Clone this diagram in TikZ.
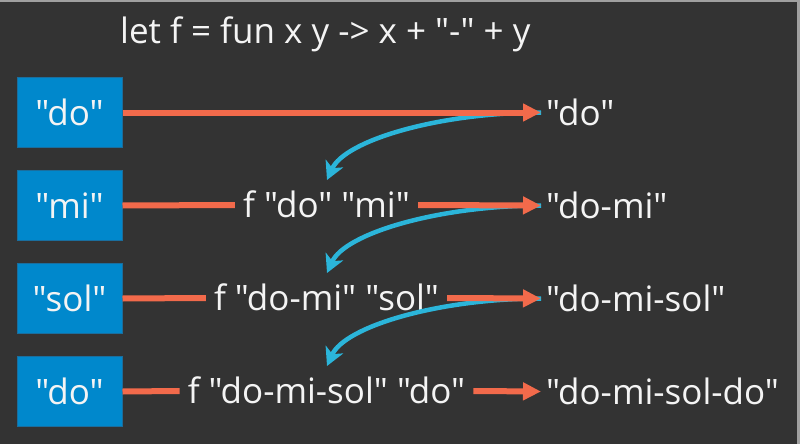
\documentclass[tikz,border=0pt]{standalone}
\usepackage{fontspec}
\setmainfont{Open Sans}[Ligatures=TeXOff]
\usetikzlibrary{arrows.meta}
\definecolor{bgdark}{HTML}{333333}
\definecolor{bgedge}{HTML}{A0A0A0}
\definecolor{boxblue}{HTML}{0088CC}
\definecolor{boxedge}{HTML}{1A6E9E}
\definecolor{redline}{HTML}{F26A4B}
\definecolor{curveblue}{HTML}{2BB5DA}
\definecolor{txt}{HTML}{F4F4F4}
\tikzset{
  bigtext/.style={font=\fontsize{35}{42}\selectfont, text=txt},
  valbox/.style={bigtext, draw=boxedge, line width=1pt, fill=boxblue,
    minimum width=105pt, minimum height=70pt, inner sep=0pt,
    text height=25pt, text depth=0pt},
  midtext/.style={bigtext, inner xsep=8pt, inner ysep=0pt,
    text height=25pt, text depth=0pt},
  restext/.style={bigtext, anchor=west, inner xsep=5pt, inner ysep=0pt,
    text height=25pt, text depth=0pt},
  redconn/.style={draw=redline, line width=6pt},
  redarrow/.style={redconn, -{Triangle[length=18pt,width=17pt]}},
  bluearrow/.style={draw=curveblue, line width=4.5pt,
    -{Stealth[length=18pt,width=19pt,inset=5pt]}},
}
\begin{document}
\begin{tikzpicture}[x=1pt,y=-1pt]
\useasboundingbox (0,0) rectangle (800,444);
\fill[bgedge] (0,0) rectangle (800,444);
\fill[bgdark] (0,2.5) rectangle (796.5,444);

\node[bigtext, anchor=base west, inner sep=0pt] (title) at (120,43.5)
  {let f = fun x y -> x + "-" + y};

% boxes
\node[valbox] (b1) at (69.5,112.5) {"do"};
\node[valbox] (b2) at (69.5,205.5) {"mi"};
\node[valbox] (b3) at (69.5,298.5) {"sol"};
\node[valbox] (b4) at (69.5,391.5) {"do"};

% middle texts
\node[midtext] (m2) at (326.5,205) {f "do" "mi"};
\node[midtext] (m3) at (326.5,298) {f "do-mi" "sol"};
\node[midtext] (m4) at (326.5,391) {f "do-mi-sol" "do"};

% results
\node[restext] (r1) at (541,112.5) {"do"};
\node[restext] (r2) at (541,205.5) {"do-mi"};
\node[restext] (r3) at (541,298.5) {"do-mi-sol"};
\node[restext] (r4) at (541,391.5) {"do-mi-sol-do"};

% blue arrow targets
\coordinate (t2) at (327,180);
\coordinate (t3) at (327,273);
\coordinate (t4) at (327,366);

% blue curves
\draw[bluearrow] (r1.west) .. controls ++(-101,0) and ++(18,-40) .. (t2);
\draw[bluearrow] (r2.west) .. controls ++(-101,0) and ++(18,-40) .. (t3);
\draw[bluearrow] (r3.west) .. controls ++(-101,0) and ++(18,-40) .. (t4);

% red connectors
\draw[redarrow] (b1.east) -- (r1.west);
\draw[redconn] (b2.east) -- (m2.west);
\draw[redarrow] (m2.east) -- (r2.west);
\draw[redconn] (b3.east) -- (m3.west);
\draw[redarrow] (m3.east) -- (r3.west);
\draw[redconn] (b4.east) -- (m4.west);
\draw[redarrow] (m4.east) -- (r4.west);
\end{tikzpicture}
\end{document}
